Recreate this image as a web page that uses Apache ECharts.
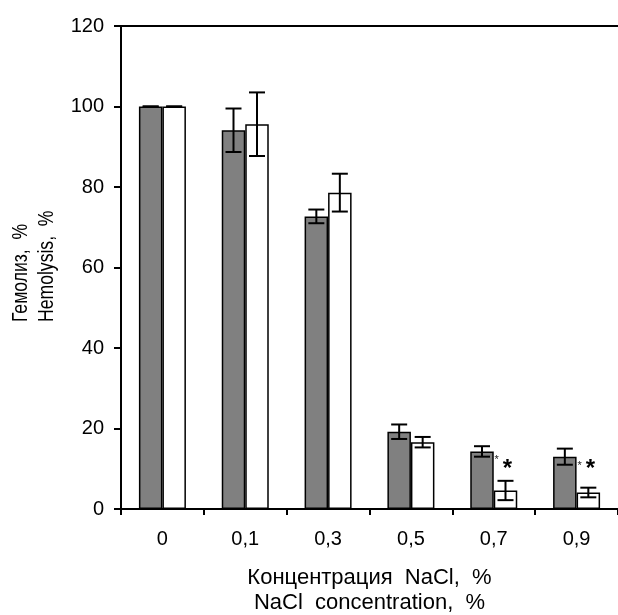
<!DOCTYPE html>
<html>
<head>
<meta charset="utf-8">
<script src="https://cdn.jsdelivr.net/npm/echarts@6/dist/echarts.min.js"></script>
<style>
html,body{margin:0;padding:0;background:#fff;}
#chart{width:618px;height:615px;}
</style>
</head>
<body>
<div id="chart"></div>
<script>
// ---- data ----
var categories = ['0', '0,1', '0,3', '0,5', '0,7', '0,9'];
var grayValues = [100, 94.1, 72.7, 19.2, 14.3, 13.0];
var grayErrors = [0, 5.4, 1.7, 1.8, 1.3, 2.0];
var whiteValues = [100, 95.6, 78.6, 16.6, 4.6, 4.1];
var whiteErrors = [0, 7.9, 4.7, 1.3, 2.4, 1.2];
var whiteSignificant = [false, false, false, false, true, true];
var yTicks = [0, 20, 40, 60, 80, 100, 120];
var xTitle = 'Концентрация  NaCl,  %\nNaCl  concentration,  %';
var yTitleRu = 'Гемолиз,  %';
var yTitleEn = 'Hemolysis,  %';

// ---- style ----
var FONT = '"Liberation Sans", Arial, Helvetica, sans-serif';
var BAR_W = 23.5;
var CAP_W = 16;
var STAR_LEVEL = 11;

function errRender(values, errors, side, sig) {
  return function (params, api) {
    var i = api.value(0);
    var v = values[i], e = errors[i];
    var c = api.coord([i, v]);
    var x = c[0] + side * BAR_W / 2;
    var top = api.coord([i, v + e])[1];
    var bot = api.coord([i, v - e])[1];
    var st = { stroke: '#000', lineWidth: 2 };
    var children = [
      { type: 'line', shape: { x1: x, y1: top, x2: x, y2: bot }, style: st },
      { type: 'line', shape: { x1: x - CAP_W / 2, y1: top, x2: x + CAP_W / 2, y2: top }, style: st },
      { type: 'line', shape: { x1: x - CAP_W / 2, y1: bot, x2: x + CAP_W / 2, y2: bot }, style: st }
    ];
    if (sig && sig[i]) {
      var sy = api.coord([i, STAR_LEVEL])[1];
      children.push({ type: 'text', x: x + 2, y: sy + 5,
        style: { text: '*', font: 'bold 24px ' + FONT, fill: '#000', textAlign: 'center', textVerticalAlign: 'middle' } });
      // small asterisk at top-right corner of the gray bar
      var gy = api.coord([i, grayValues[i]])[1];
      children.push({ type: 'text', x: c[0] + 3, y: gy + 9,
        style: { text: '*', font: '11px ' + FONT, fill: '#222', textAlign: 'center', textVerticalAlign: 'middle' } });
    }
    return { type: 'group', children: children };
  };
}

var chart = echarts.init(document.getElementById('chart'), null, { renderer: 'canvas' });
chart.setOption({
  animation: false,
  backgroundColor: '#fff',
  grid: { left: 121, right: 0, top: 26, bottom: 106, containLabel: false, outerBoundsMode: 'none' },
  xAxis: [{
    type: 'category',
    data: categories,
    axisLine: { lineStyle: { color: '#000', width: 2 } },
    axisTick: { show: true, length: 6, lineStyle: { color: '#000', width: 2 } },
    axisLabel: { color: '#000', fontSize: 20, fontFamily: FONT, margin: 20 },
    name: xTitle,
    nameLocation: 'middle',
    nameGap: 56,
    nameTextStyle: { color: '#000', fontSize: 22, fontFamily: FONT, lineHeight: 25 }
  }, {
    type: 'category',
    position: 'top',
    data: categories,
    axisLine: { show: true, onZero: false, lineStyle: { color: '#000', width: 2 } },
    axisTick: { show: false },
    axisLabel: { show: false }
  }],
  yAxis: {
    type: 'value',
    min: yTicks[0],
    max: yTicks[yTicks.length - 1],
    interval: yTicks[1] - yTicks[0],
    splitLine: { show: false },
    axisLine: { show: true, lineStyle: { color: '#000', width: 2 } },
    axisTick: { show: true, length: 7, lineStyle: { color: '#000', width: 2 } },
    axisLabel: { color: '#000', fontSize: 20, fontFamily: FONT, margin: 17 }
  },
  graphic: [
    { type: 'text', x: 32, y: 322, rotation: Math.PI / 2, scaleX: 0.8,
      style: { text: yTitleRu, font: '22px ' + FONT, fill: '#000', textAlign: 'left', textVerticalAlign: 'bottom' } },
    { type: 'text', x: 58, y: 322, rotation: Math.PI / 2, scaleX: 0.8,
      style: { text: yTitleEn, font: '22px ' + FONT, fill: '#000', textAlign: 'left', textVerticalAlign: 'bottom' } }
  ],
  series: [
    { type: 'bar', data: grayValues, barWidth: BAR_W, barGap: '0%',
      itemStyle: { color: '#808080', borderColor: '#000', borderWidth: 1.5 } },
    { type: 'bar', data: whiteValues, barWidth: BAR_W, barGap: '0%',
      itemStyle: { color: '#fff', borderColor: '#000', borderWidth: 1.5 } },
    { type: 'custom', z: 5, renderItem: errRender(grayValues, grayErrors, -1, null),
      data: categories.map(function (c, i) { return [i, grayValues[i]]; }), encode: { x: 0, y: 1 } },
    { type: 'custom', z: 5, renderItem: errRender(whiteValues, whiteErrors, 1, whiteSignificant),
      data: categories.map(function (c, i) { return [i, whiteValues[i]]; }), encode: { x: 0, y: 1 } }
  ]
});
</script>
</body>
</html>
